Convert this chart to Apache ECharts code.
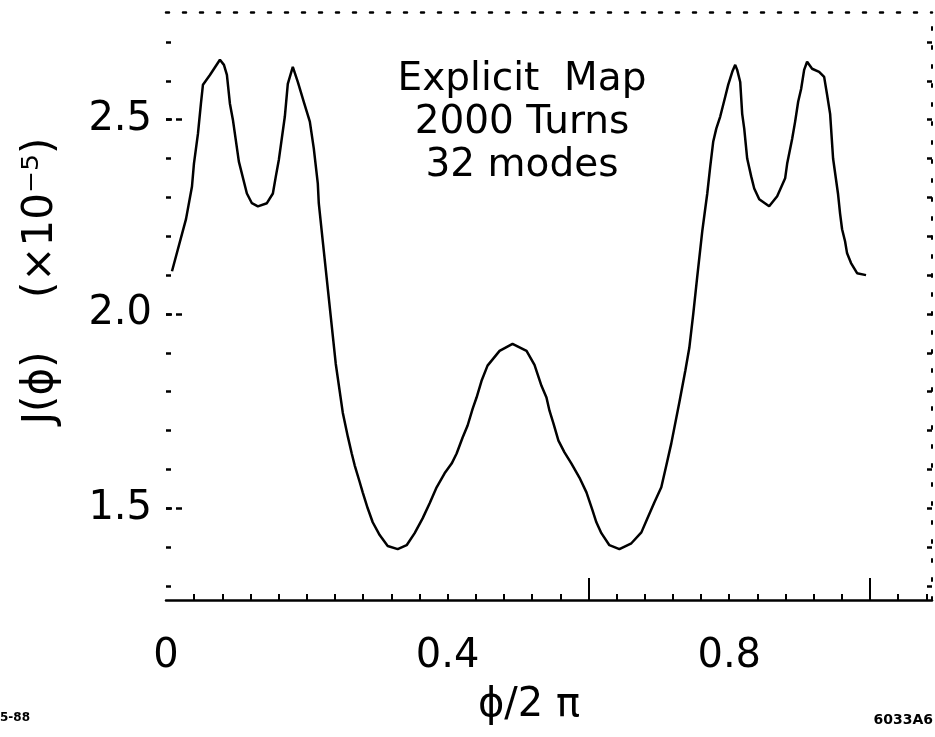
<!DOCTYPE html>
<html>
<head>
<meta charset="utf-8">
<script src="https://cdn.jsdelivr.net/npm/echarts@6/dist/echarts.min.js"></script>
<style>
html,body{margin:0;padding:0;background:#fff;}
#chart{width:935px;height:737px;}
</style>
</head>
<body>
<div id="chart"></div>
<script>
// phi/2pi values
const phiValues = [0.0085,0.0284,0.0369,0.0397,0.0454,0.0496,0.0525,0.0624,0.0766,0.0823,0.0865,0.0908,0.0950,0.1035,0.1149,0.1220,0.1305,0.1433,0.1518,0.1560,0.1603,0.1688,0.1730,0.1801,0.1872,0.1957,0.2043,0.2099,0.2156,0.2170,0.2227,0.2411,0.2511,0.2582,0.2638,0.2681,0.2752,0.2794,0.2865,0.2936,0.3035,0.3149,0.3291,0.3418,0.3532,0.3645,0.3745,0.3844,0.3957,0.4057,0.4128,0.4213,0.4284,0.4355,0.4411,0.4482,0.4567,0.4738,0.4922,0.5121,0.5234,0.5333,0.5404,0.5447,0.5504,0.5574,0.5660,0.5759,0.5872,0.5972,0.6057,0.6113,0.6184,0.6298,0.6440,0.6610,0.6752,0.6837,0.6936,0.7035,0.7106,0.7177,0.7291,0.7376,0.7433,0.7489,0.7546,0.7617,0.7660,0.7688,0.7730,0.7773,0.7816,0.7872,0.7943,0.7986,0.8043,0.8085,0.8113,0.8156,0.8184,0.8213,0.8255,0.8312,0.8355,0.8426,0.8567,0.8681,0.8794,0.8823,0.8894,0.8936,0.8979,0.9021,0.9064,0.9106,0.9177,0.9277,0.9348,0.9390,0.9433,0.9475,0.9546,0.9574,0.9603,0.9645,0.9674,0.9730,0.9816,0.9943];
// J(phi) in units of 1e-5
const jValues = [2.110,2.244,2.328,2.387,2.464,2.541,2.590,2.615,2.654,2.641,2.615,2.541,2.500,2.392,2.310,2.285,2.277,2.285,2.310,2.354,2.397,2.508,2.592,2.636,2.597,2.546,2.495,2.426,2.336,2.285,2.187,1.872,1.746,1.685,1.641,1.610,1.567,1.541,1.500,1.464,1.431,1.403,1.395,1.405,1.436,1.474,1.513,1.554,1.590,1.615,1.641,1.682,1.713,1.756,1.785,1.828,1.867,1.905,1.923,1.905,1.869,1.815,1.785,1.751,1.718,1.674,1.644,1.615,1.579,1.541,1.495,1.464,1.436,1.405,1.395,1.410,1.438,1.474,1.515,1.554,1.610,1.667,1.772,1.854,1.913,2.000,2.097,2.213,2.272,2.310,2.379,2.444,2.477,2.508,2.559,2.590,2.623,2.641,2.628,2.597,2.515,2.477,2.400,2.354,2.323,2.295,2.277,2.303,2.349,2.387,2.451,2.495,2.546,2.579,2.628,2.649,2.631,2.623,2.610,2.564,2.515,2.400,2.308,2.259,2.218,2.187,2.156,2.131,2.105,2.100];

const xLabelValues = [0, 0.4, 0.8];
const xMinorTicks = [0.04,0.08,0.12,0.16,0.20,0.24,0.28,0.32,0.36,0.40,0.44,0.48,0.52,0.56,0.60,0.64,0.68,0.72,0.76,0.80,0.84,0.88,0.92,0.96,1.00,1.04,1.08];
const xMajorTicks = [0.6, 1.0];
const yLabelValues = [1.5, 2.0, 2.5];
const yMinorTicks = [1.3,1.4,1.5,1.6,1.7,1.8,1.9,2.0,2.1,2.2,2.3,2.4,2.5,2.6,2.7];
const annotationLines = ['Explicit  Map', '2000 Turns', '32 modes'];

const X_MIN = 0, X_MAX = 1.088, Y_MIN = 1.264, Y_MAX = 2.777;
const FONT = 'DejaVu Sans';

const seriesData = phiValues.map((x, i) => [x, jValues[i]]);

const chart = echarts.init(document.getElementById('chart'), null, {renderer: 'canvas'});
const black = '#000';

const option = {
  animation: false,
  backgroundColor: '#fff',
  grid: {left: 166, right: 3, top: 12, bottom: 137},
  xAxis: [
    {
      type: 'value', min: X_MIN, max: X_MAX, position: 'bottom',
      axisLine: {show: true, onZero: false, lineStyle: {color: black, width: 2.5}},
      axisTick: {show: true, inside: true, length: 6, customValues: xMinorTicks, lineStyle: {color: black, width: 2}},
      axisLabel: {
        show: true, customValues: xLabelValues, margin: 37,
        formatter: v => (Math.abs(v) < 1e-9 ? '0' : v.toFixed(1)),
        fontFamily: FONT, fontSize: 40, color: black
      },
      splitLine: {show: false},
      name: 'ϕ/2 π', nameLocation: 'middle', nameGap: 86,
      nameTextStyle: {fontFamily: FONT, fontSize: 40, color: black, padding: [0, 40, 0, 0]}
    },
    {
      type: 'value', min: X_MIN, max: X_MAX, position: 'bottom',
      axisLine: {show: false},
      axisTick: {show: true, inside: true, length: 22, customValues: xMajorTicks, lineStyle: {color: black, width: 2}},
      axisLabel: {show: false},
      splitLine: {show: false}
    },
    {
      type: 'value', min: X_MIN, max: X_MAX, position: 'top',
      axisLine: {show: true, onZero: false, lineStyle: {color: black, width: 2.5, type: [3, 14]}},
      axisTick: {show: false},
      axisLabel: {show: false},
      splitLine: {show: false}
    }
  ],
  yAxis: [
    {
      type: 'value', min: Y_MIN, max: Y_MAX, position: 'left',
      axisLine: {show: false},
      axisTick: {show: true, inside: true, length: 5, customValues: yMinorTicks, lineStyle: {color: black, width: 2.5}},
      axisLabel: {
        show: true, customValues: yLabelValues, margin: 14,
        formatter: v => v.toFixed(1),
        fontFamily: FONT, fontSize: 40, color: black
      },
      splitLine: {show: false},
      name: 'J(ϕ)    (×10⁻⁵)', nameLocation: 'middle', nameGap: 104, nameRotate: 90,
      nameTextStyle: {fontFamily: FONT, fontSize: 42, color: black, padding: [0, 0, 0, 50]}
    },
    {
      type: 'value', min: Y_MIN, max: Y_MAX, position: 'left',
      axisLine: {show: false},
      axisTick: {show: true, inside: true, length: 16, customValues: yLabelValues, lineStyle: {color: black, width: 2.5, type: [6, 4]}},
      axisLabel: {show: false},
      splitLine: {show: false}
    },
    {
      type: 'value', min: Y_MIN, max: Y_MAX, position: 'right',
      axisLine: {show: true, onZero: false, lineStyle: {color: black, width: 2, type: [3, 16]}},
      axisTick: {show: true, inside: true, length: 5, customValues: yMinorTicks, lineStyle: {color: black, width: 2.5}},
      axisLabel: {show: false},
      splitLine: {show: false}
    }
  ],
  series: [
    {
      type: 'line', xAxisIndex: 0, yAxisIndex: 0,
      data: seriesData,
      showSymbol: false, smooth: false,
      lineStyle: {color: black, width: 2.5},
      silent: true
    }
  ],
  graphic: [
    {
      type: 'text', left: 522 - 150, top: 58, z: 10,
      style: {
        text: annotationLines.join('\n'), width: 300, textAlign: 'center',
        x: 150, fontFamily: FONT, fontSize: 39, lineHeight: 43, fill: black
      }
    },
    {
      type: 'text', left: 0, top: 712,
      style: {text: '5-88', fontFamily: FONT, fontSize: 12, fontWeight: 'bold', fill: black}
    },
    {
      type: 'text', right: 2, top: 713,
      style: {text: '6033A6', fontFamily: FONT, fontSize: 14, fontWeight: 'bold', fill: black}
    }
  ]
};
chart.setOption(option);
</script>
</body>
</html>
